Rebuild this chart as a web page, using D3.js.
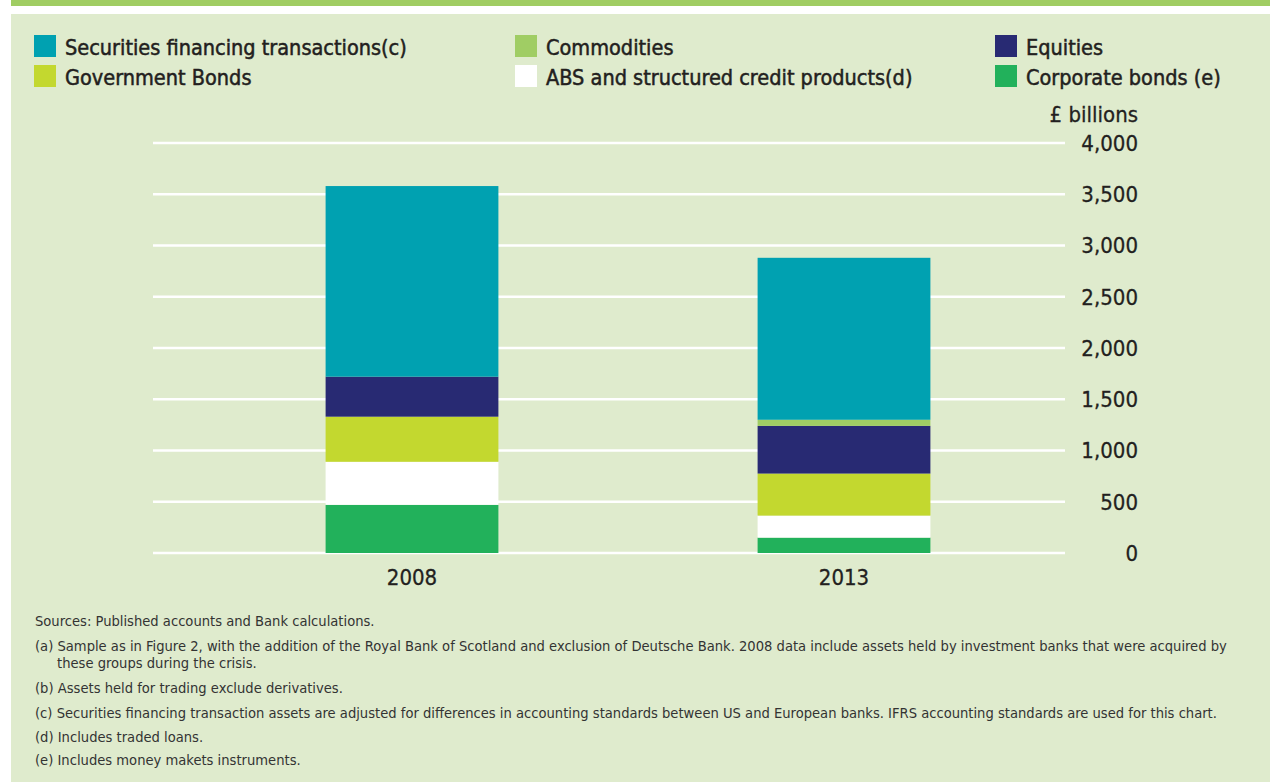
<!DOCTYPE html>
<html lang="en">
<head>
    <meta charset="UTF-8">
    <title>Trading assets of major banks, 2008 and 2013</title>
    <script src="https://d3js.org/d3.v7.min.js"></script>
    <style>
        body { margin: 0; background: #fff; }
        svg text {
            font-family: "DejaVu Sans Condensed", "DejaVu Sans", sans-serif;
            font-stretch: condensed;
            fill: #231f20;
        }
        .axis text { font-size: 22px; stroke: #231f20; stroke-width: 0.3px; }
        .legend text { font-size: 21.5px; stroke: #231f20; stroke-width: 0.5px; }
        .notes text { font-size: 14.6px; fill: #333; }
    </style>
</head>
<body>
    <svg id="chart" width="1270" height="782"></svg>

    <script>
        // years on the x axis
        const years = ["2008", "2013"];

        // series, bottom of the stack first
        const series = [
            "Corporate bonds (e)",
            "ABS and structured credit products(d)",
            "Government Bonds",
            "Equities",
            "Commodities",
            "Securities financing transactions(c)"
        ];

        // £ billions (same order as years)
        const corporate = [470, 150];
        const abs = [420, 215];
        const govBonds = [440, 410];
        const equities = [390, 465];
        const commodities = [0, 60];
        const sft = [1860, 1580];

        const yTicks = [0, 500, 1000, 1500, 2000, 2500, 3000, 3500, 4000];

        const colours = {
            "Securities financing transactions(c)": "#00a1b1",
            "Commodities": "#a0cd64",
            "Equities": "#282a73",
            "Government Bonds": "#c3d82f",
            "ABS and structured credit products(d)": "#ffffff",
            "Corporate bonds (e)": "#22b15b"
        };

        // legend reads across in rows of three
        const legendOrder = [
            "Securities financing transactions(c)", "Commodities", "Equities",
            "Government Bonds", "ABS and structured credit products(d)", "Corporate bonds (e)"
        ];

        const notes = [
            "Sources: Published accounts and Bank calculations.",
            "(a) Sample as in Figure 2, with the addition of the Royal Bank of Scotland and exclusion of Deutsche Bank. 2008 data include assets held by investment banks that were acquired by",
            "these groups during the crisis.",
            "(b) Assets held for trading exclude derivatives.",
            "(c) Securities financing transaction assets are adjusted for differences in accounting standards between US and European banks. IFRS accounting standards are used for this chart.",
            "(d) Includes traded loans.",
            "(e) Includes money makets instruments."
        ];

        const table = years.map((y, i) => ({
            year: y,
            "Corporate bonds (e)": corporate[i],
            "ABS and structured credit products(d)": abs[i],
            "Government Bonds": govBonds[i],
            "Equities": equities[i],
            "Commodities": commodities[i],
            "Securities financing transactions(c)": sft[i]
        }));

        const svg = d3.select("#chart");

        // frame: green strip on top, pale green panel
        svg.append("rect").attr("x", 11).attr("y", 0).attr("width", 1259).attr("height", 6).attr("fill", "#a0cd63");
        svg.append("rect").attr("x", 11).attr("y", 14).attr("width", 1259).attr("height", 768).attr("fill", "#dfebcd");

        const x = d3.scaleBand().domain(years).range([196, 1060]).paddingInner(0.6).paddingOuter(0.3);
        const y = d3.scaleLinear().domain([0, 4000]).range([553, 143]);

        // gridlines
        svg.append("g")
            .selectAll("line")
            .data(yTicks)
            .join("line")
            .attr("x1", 153)
            .attr("x2", 1065)
            .attr("y1", d => y(d))
            .attr("y2", d => y(d))
            .attr("stroke", "#fff")
            .attr("stroke-width", 2.5);

        // y axis labels on the right
        const fmt = d3.format(",");
        const axis = svg.append("g").attr("class", "axis");
        axis.selectAll("text.tick")
            .data(yTicks)
            .join("text")
            .attr("class", "tick")
            .attr("x", 1138)
            .attr("y", d => y(d))
            .attr("dy", "0.36em")
            .attr("text-anchor", "end")
            .text(d => fmt(d));
        axis.append("text")
            .attr("x", 1138)
            .attr("y", 114)
            .attr("dy", "0.36em")
            .attr("text-anchor", "end")
            .text("£ billions");

        // stacked bars
        const stacked = d3.stack().keys(series)(table);
        svg.append("g")
            .selectAll("g")
            .data(stacked)
            .join("g")
            .attr("fill", d => colours[d.key])
            .selectAll("rect")
            .data(d => d)
            .join("rect")
            .attr("x", d => x(d.data.year))
            .attr("width", x.bandwidth())
            .attr("y", d => y(d[1]))
            .attr("height", d => y(d[0]) - y(d[1]));

        // x labels
        axis.selectAll("text.year")
            .data(years)
            .join("text")
            .attr("class", "year")
            .attr("x", d => x(d) + x.bandwidth() / 2)
            .attr("y", 577)
            .attr("dy", "0.36em")
            .attr("text-anchor", "middle")
            .text(d => d);

        // legend
        const colX = [34, 515, 995];
        const legend = svg.append("g").attr("class", "legend")
            .selectAll("g")
            .data(legendOrder)
            .join("g")
            .attr("transform", (d, i) => `translate(${colX[i % 3]},${35 + Math.floor(i / 3) * 30})`);
        legend.append("rect")
            .attr("width", 22)
            .attr("height", 22)
            .attr("fill", d => colours[d]);
        legend.append("text")
            .attr("x", 31)
            .attr("y", 12)
            .attr("dy", "0.36em")
            .text(d => d);

        // footnotes
        const noteY = [621, 646, 663, 688, 713, 737, 760];
        svg.append("g").attr("class", "notes")
            .selectAll("text")
            .data(notes)
            .join("text")
            .attr("x", (d, i) => i === 2 ? 57 : 35)
            .attr("y", (d, i) => noteY[i])
            .attr("dy", "0.36em")
            .text(d => d);
    </script>
</body>
</html>
